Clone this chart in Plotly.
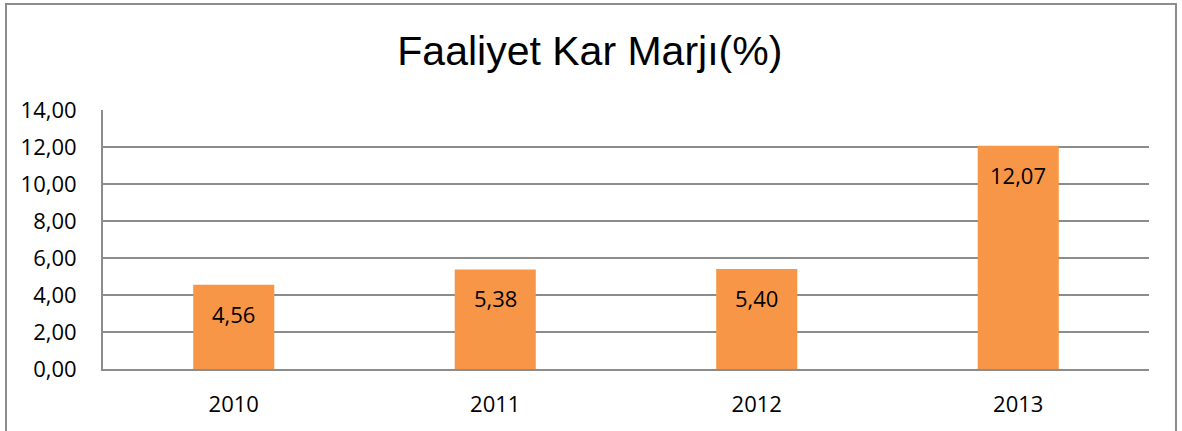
import plotly.graph_objects as go

years = ["2010", "2011", "2012", "2013"]
values = [4.56, 5.38, 5.40, 12.07]
labels = ["4,56", "5,38", "5,40", "12,07"]
tick_vals = [0, 2, 4, 6, 8, 10, 12, 14]
tick_text = ["0,00", "2,00", "4,00", "6,00", "8,00", "10,00", "12,00", "14,00"]

W, H = 1182, 431
L, R, T, B = 103, 33, 110, 62
pw, ph = W - L - R, H - T - B

def px(x):
    return (x - L) / pw

def py(y):
    return (H - B - y) / ph

fig = go.Figure()
fig.add_trace(go.Bar(x=years, y=values, marker=dict(color="#F79646", line=dict(width=0)),
                     hoverinfo="skip"))

for i, (v, t) in enumerate(zip(values, labels)):
    fig.add_annotation(x=i, y=v, xref="x", yref="y", text=t, showarrow=False,
                       yanchor="top", yshift=-12,
                       font=dict(family="Open Sans, sans-serif", size=22, color="#000000"))

fig.add_shape(type="rect", xref="paper", yref="paper",
              x0=px(6), x1=px(1176), y0=py(4), y1=py(450),
              line=dict(color="#8C8C8C", width=2), fillcolor="rgba(0,0,0,0)", layer="below")

fig.update_layout(
    width=W, height=H,
    margin=dict(l=L, r=R, t=T, b=B, pad=0),
    paper_bgcolor="white", plot_bgcolor="white",
    showlegend=False,
    bargap=0.69,
    title=dict(text="Faaliyet Kar Marjı(%)", x=0.499, xanchor="center",
               y=1 - 51 / H, yanchor="middle",
               font=dict(family="Liberation Sans Narrow, sans-serif", size=41, color="#000000")),
    font=dict(family="Open Sans, sans-serif", size=22, color="#000000"),
)
fig.update_yaxes(range=[0, 14], tickvals=tick_vals, ticktext=tick_text,
                 showgrid=True, gridcolor="#8C8C8C", gridwidth=2,
                 showline=True, linecolor="#8C8C8C", linewidth=2,
                 zeroline=False, ticks="outside", ticklen=20, tickcolor="rgba(0,0,0,0)",
                 tickfont=dict(size=22))
fig.update_xaxes(type="category", categoryorder="array", categoryarray=years,
                 range=[-0.5, 3.5], showgrid=False,
                 showline=True, linecolor="#8C8C8C", linewidth=2,
                 ticks="outside", ticklen=15, tickcolor="rgba(0,0,0,0)",
                 tickfont=dict(size=22))

fig.write_html("out.html", config={"displayModeBar": False},
               post_script="document.body.style.margin='0';document.body.style.padding='0';")
